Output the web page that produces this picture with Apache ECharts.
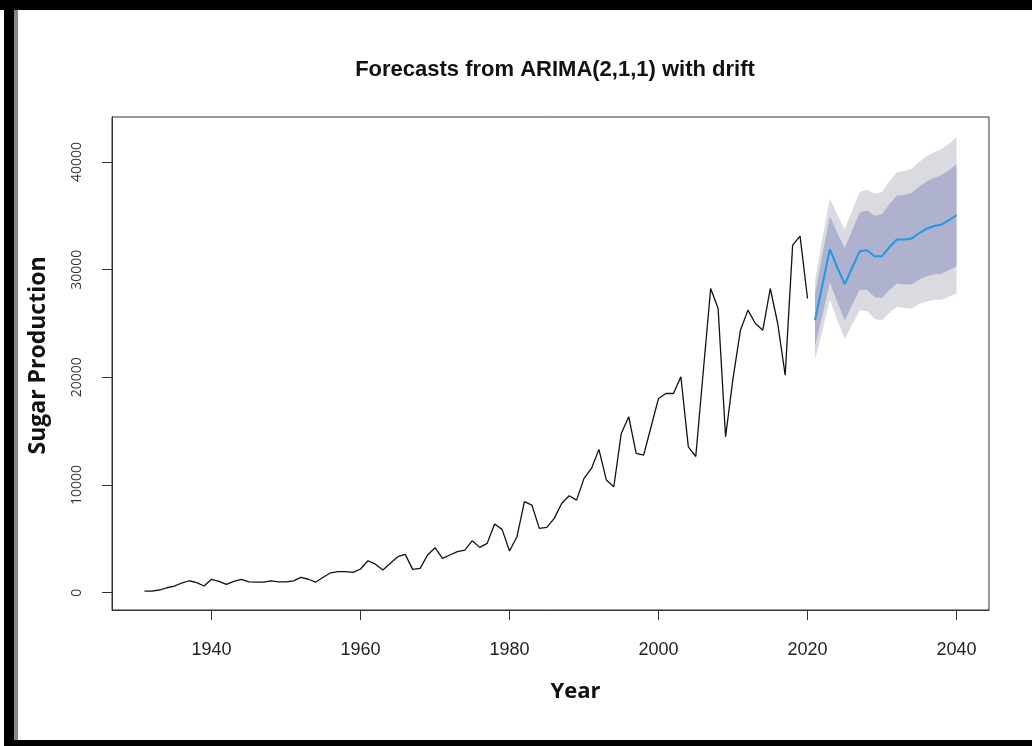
<!DOCTYPE html>
<html>
<head>
<meta charset="utf-8">
<script src="https://cdn.jsdelivr.net/npm/echarts@6/dist/echarts.min.js"></script>
<style>
  html, body { margin: 0; padding: 0; background: #fff; }
  #main { width: 1032px; height: 746px; }
</style>
</head>
<body>
<div id="main"></div>
<script>
// 历史数据 1931-2020
var histStart = 1931;
var histValues = [
  150, 150, 250, 460, 620, 900, 1110, 930, 620, 1240,
  1060, 780, 1050, 1240, 1000, 990, 990, 1100, 1000, 1000,
  1100, 1420, 1250, 990, 1430, 1850, 1950, 1950, 1890, 2200,
  2970, 2650, 2110, 2730, 3340, 3560, 2170, 2260, 3500, 4180,
  3190, 3500, 3810, 3960, 4830, 4210, 4580, 6380, 5880, 3870,
  5200, 8450, 8140, 5970, 6070, 6900, 8290, 9000, 8600, 10620,
  11540, 13310, 10460, 9840, 14790, 16340, 12940, 12780, 15410, 18040,
  18500, 18500, 20050, 13550, 12650, 20500, 28250, 26390, 14480, 19900,
  24380, 26240, 25000, 24380, 28250, 25000, 20200, 32270, 33110, 27320
];

// 预测 2021-2040
var fcStart = 2021;
var fcMean = [25300, 28600, 31900, 30200, 28650, 30200, 31700, 31800, 31250, 31250,
              32100, 32800, 32800, 32900, 33400, 33800, 34050, 34200, 34600, 35050];
var lo95 = [21600, 24300, 27200, 25300, 23550, 24900, 26200, 26150, 25450, 25300,
            26000, 26550, 26450, 26400, 26800, 27050, 27200, 27200, 27500, 27800];
var lo80 = [22880, 25790, 28830, 27000, 25310, 26730, 28100, 28100, 27460, 27360,
            28110, 28710, 28650, 28650, 29080, 29390, 29570, 29620, 29960, 30310];
var hi80 = [27720, 31410, 34970, 33400, 31990, 33670, 35300, 35500, 35040, 35140,
            36090, 36890, 36950, 37150, 37720, 38210, 38530, 38780, 39240, 39790];
var hi95 = [29000, 32900, 36600, 35100, 33750, 35500, 37200, 37450, 37050, 37200,
            38200, 39050, 39150, 39400, 40000, 40550, 40900, 41200, 41700, 42300];

var xTicks = [1940, 1960, 1980, 2000, 2020, 2040];
var yTicks = [0, 10000, 20000, 30000, 40000];

function pairs(start, arr) {
  var out = [];
  for (var i = 0; i < arr.length; i++) out.push([start + i, arr[i]]);
  return out;
}

// 置信区间多边形: 上边界正向 + 下边界反向
function bandSeries(name, lo, hi, color, z) {
  return {
    name: name, type: 'custom', silent: true, z: z,
    data: [[fcStart, hi[0]]],
    renderItem: function (params, api) {
      var pts = [];
      for (var i = 0; i < hi.length; i++) pts.push(api.coord([fcStart + i, hi[i]]));
      for (var j = lo.length - 1; j >= 0; j--) pts.push(api.coord([fcStart + j, lo[j]]));
      return { type: 'polygon', shape: { points: pts }, style: { fill: color } };
    }
  };
}

var myChart = echarts.init(document.getElementById('main'));

var plain = function (v) { return String(v); };

var option = {
  animation: false,
  backgroundColor: '#fff',
  title: {
    text: 'Forecasts from ARIMA(2,1,1) with drift',
    left: 550, top: 54, textAlign: 'center',
    textStyle: { fontFamily: 'Liberation Sans', fontWeight: 'bold', fontSize: 22, color: '#111' }
  },
  graphic: [
    { type: 'rect', shape: { x: 0, y: 0, width: 1032, height: 10 }, style: { fill: '#000' } },
    { type: 'rect', shape: { x: 4, y: 0, width: 10, height: 746 }, style: { fill: '#000' } },
    { type: 'rect', shape: { x: 14, y: 10, width: 4, height: 730 }, style: { fill: '#888' } },
    { type: 'rect', shape: { x: 4, y: 740, width: 1028, height: 6 }, style: { fill: '#000' } }
  ],
  grid: {
    left: 112, top: 117, right: 43, bottom: 136,
    show: true, borderColor: '#333', borderWidth: 1, backgroundColor: 'transparent'
  },
  xAxis: {
    type: 'value', min: 1926.64, max: 2044.36,
    name: 'Year', nameLocation: 'middle', nameGap: 71,
    nameTextStyle: { fontFamily: 'Open Sans', fontWeight: 'bold', fontSize: 22, color: '#111',
                     padding: [0, 0, 0, 50] },
    axisLine: { show: true, onZero: false, lineStyle: { color: '#333' } },
    axisTick: { show: true, length: 10, customValues: xTicks, lineStyle: { color: '#333' } },
    axisLabel: { customValues: xTicks, formatter: plain, margin: 31,
                 fontFamily: 'Liberation Sans', fontSize: 18, color: '#222' },
    splitLine: { show: false }
  },
  yAxis: {
    type: 'value', min: -1606, max: 44176,
    name: 'Sugar Production', nameLocation: 'middle', nameGap: 62,
    nameTextStyle: { fontFamily: 'Open Sans', fontWeight: 'bold', fontSize: 23, color: '#111',
                     padding: [0, 0, 0, 16] },
    axisLine: { show: true, onZero: false, lineStyle: { color: '#333' } },
    axisTick: { show: true, length: 10, customValues: yTicks, lineStyle: { color: '#333' } },
    axisLabel: { customValues: yTicks, formatter: plain, rotate: 90, margin: 28,
                 fontFamily: 'Open Sans', fontSize: 14, color: '#333' },
    splitLine: { show: false }
  },
  series: [
    bandSeries('95%', lo95, hi95, '#DADAE0', 1),
    bandSeries('80%', lo80, hi80, '#AEB2CF', 2),
    {
      name: 'history', type: 'line', symbol: 'none', z: 3,
      data: pairs(histStart, histValues),
      lineStyle: { color: '#111', width: 1.3 }
    },
    {
      name: 'forecast', type: 'line', symbol: 'none', z: 4,
      data: pairs(fcStart, fcMean),
      lineStyle: { color: '#2297E6', width: 2 }
    }
  ]
};

myChart.setOption(option);
</script>
</body>
</html>
